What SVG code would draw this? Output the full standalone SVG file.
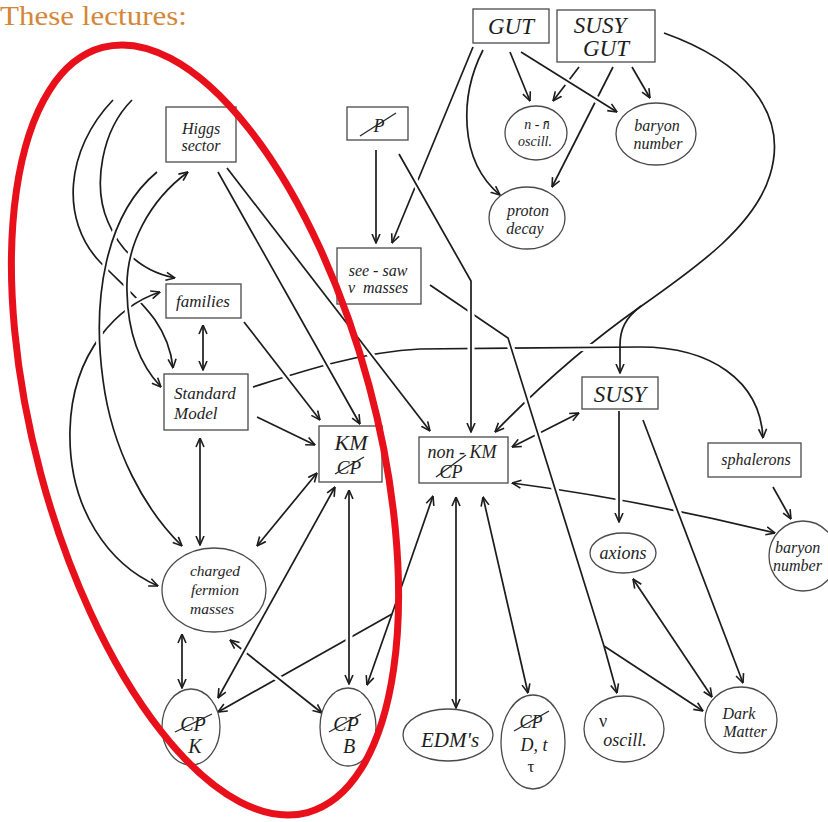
<svg xmlns="http://www.w3.org/2000/svg" width="828" height="822" viewBox="0 0 828 822">
<style>
.c{fill:none;stroke:#1c1c1c;stroke-width:1.7}
.h{fill:none;stroke:#fff;stroke-width:7}
.e{marker-end:url(#a)}
.s{marker-start:url(#a)}
.n{fill:#fff;stroke:#4a4a4a;stroke-width:1.3}
.t{font-family:"Liberation Serif","DejaVu Serif",serif;font-style:italic;fill:#1e1e1e;text-anchor:middle}
.sl{stroke:#262626;stroke-width:1.3}
</style>
<defs>
<marker id="a" viewBox="0 0 10 10" refX="9.5" refY="5" markerWidth="10" markerHeight="10" markerUnits="userSpaceOnUse" orient="auto-start-reverse">
<path d="M0.5,1 L9.5,5 L0.5,9" fill="none" stroke="#1c1c1c" stroke-width="1.6"/>
</marker>
</defs>
<rect width="828" height="822" fill="#fff"/>
<text x="0" y="25" font-family="Liberation Serif,serif" font-size="28" fill="#d4873a" textLength="187" lengthAdjust="spacingAndGlyphs">These lectures:</text>

<g id="connectors">
<path class="c e" d="M640,307 C610,328 560,365 495,432"/>
<path class="h" d="M253,387 C300,372 360,352 420,349 L640,347 C710,347 760,380 763,438"/>
<path class="c e" d="M253,387 C300,372 360,352 420,349 L640,347 C710,347 760,380 763,438"/>
<path class="c" d="M664,33 C740,60 790,110 770,175 C755,225 700,265 640,307"/>
<path class="c e" d="M641,306 C625,318 620,330 620,345 L620,373"/>
<path class="c e" d="M483,50 C460,95 458,160 500,195"/>
<path class="c e" d="M473,47 L392,243"/>
<path class="c e" d="M510,52 L530,101"/>
<path class="c e" d="M579,67 L553,101"/>
<path class="c e" d="M613,67 L552,187"/>
<path class="h" d="M521,54 L612,109"/>
<path class="c e" d="M521,52 L617,112"/>
<path class="c e" d="M632,67 L650,98"/>
<path class="c e" d="M376,150 L376,243"/>
<path class="c s e" d="M512,447 L579,413"/>
<path class="c s e" d="M512,483 Q640,500 775,533"/>
<path class="h" d="M434,288 L508,338 L604,646 L614,683 M604,646 L695,706"/>
<path class="c" d="M430,285 L508,338 L604,646"/>
<path class="c e" d="M604,646 L617,693"/>
<path class="c e" d="M604,646 L703,711"/>
<path class="h" d="M403,160 L471,281 L471,425"/>
<path class="c e" d="M399,154 L471,281 L471,432"/>
<path class="h" d="M619,413 L619,515"/>
<path class="c e" d="M619,411 L619,522"/>
<path class="h" d="M644,423 L740,676"/>
<path class="c e" d="M643,420 L743,683"/>
<path class="c s e" d="M633,579 L712,697"/>
<path class="c e" d="M773,487 L791,519"/>
<path class="h" d="M220,176 L357,418"/>
<path class="c e" d="M218,172 L360,424"/>
<path class="h" d="M229,171 L425,425"/>
<path class="c e" d="M227,168 L430,431"/>
<path class="h" d="M246,325 L316,415"/>
<path class="c e" d="M244,322 L320,420"/>
<path class="c e" d="M257,417 L315,445"/>
<path class="c s e" d="M203,325 L203,370"/>
<path class="c s e" d="M200,438 L200,545"/>
<path class="c s e" d="M317,473 L257,546"/>
<path class="c s" d="M433,496 L392,614"/>
<path class="c e" d="M392,614 L367,685"/>
<path class="c e" d="M392,614 L218,712"/>
<path class="h" d="M236,645 L316,708"/>
<path class="c s e" d="M230,640 L322,713"/>
<path class="h" d="M349,497 L349,677"/>
<path class="c s e" d="M349,490 L349,684"/>
<path class="h" d="M331,494 L222,691"/>
<path class="c s e" d="M335,487 L218,698"/>
<path class="c s e" d="M182,634 L182,688"/>
<path class="c s e" d="M456,497 L456,708"/>
<path class="c s e" d="M483,497 L528,693"/>
<path class="c e" d="M113,100 C65,150 60,220 100,262 C135,298 168,320 173,368"/>
<path class="c e" d="M132,100 C102,130 92,185 108,222 C122,255 145,272 175,278"/>
<path class="h" d="M153,294 C120,305 72,350 70,430 C68,510 110,565 151,583"/>
<path class="c s e" d="M160,292 C120,305 72,350 70,430 C68,510 110,565 158,586"/>
<path class="h" d="M157,172 C105,215 92,300 103,380 C112,450 145,510 176,540"/>
<path class="c e" d="M157,172 C105,215 92,300 103,380 C112,450 145,510 182,546"/>
<path class="h" d="M183,176 C150,200 125,245 127,292 C128,340 143,368 155,381"/>
<path class="c s e" d="M188,172 C150,200 125,245 127,292 C128,340 143,368 161,387"/>
</g>

<g id="higgs"><rect class="n" x="166" y="107" width="70" height="55"/><text class="t" x="201" y="134" font-size="16">Higgs</text><text class="t" x="201" y="151" font-size="16">sector</text></g>
<g id="pslash"><rect class="n" x="347" y="107" width="61" height="33"/><text class="t" x="379" y="132" font-size="18">P</text><line class="sl" x1="360" y1="136" x2="396" y2="113"/></g>
<g id="gut"><rect class="n" x="473" y="9" width="76" height="34"/><text class="t" x="511" y="34" font-size="23">GUT</text></g>
<g id="susygut"><rect class="n" x="557" y="10" width="98" height="52"/><text class="t" x="600" y="33" font-size="23">SUSY</text><text class="t" x="606" y="56" font-size="23">GUT</text></g>
<g id="seesaw"><rect class="n" x="337" y="248" width="84" height="56"/><text class="t" x="378" y="276" font-size="16">see - saw</text><text class="t" x="348" y="293" font-size="16" style="text-anchor:start">ν<tspan x="363">masses</tspan></text></g>
<g id="families"><rect class="n" x="166" y="284" width="75" height="34"/><text class="t" x="203" y="307" font-size="17">families</text></g>
<g id="sm"><rect class="n" x="164" y="374" width="84" height="56"/><text class="t" x="174" y="399" font-size="17" style="text-anchor:start">Standard</text><text class="t" x="174" y="419" font-size="17" style="text-anchor:start">Model</text></g>
<g id="km"><rect class="n" x="319" y="426" width="63" height="56"/><text class="t" x="351" y="450" font-size="22">KM</text><text class="t" x="349" y="474" font-size="19">CP</text><line class="sl" x1="335" y1="474" x2="364" y2="457"/></g>
<g id="nonkm"><rect class="n" x="419" y="437" width="89" height="46"/><text class="t" x="462" y="458" font-size="18">non - KM</text><text class="t" x="451" y="478" font-size="18">CP</text><line class="sl" x1="436" y1="477" x2="466" y2="455"/></g>
<g id="susy"><rect class="n" x="582" y="377" width="76" height="32"/><text class="t" x="620" y="402" font-size="23">SUSY</text></g>
<g id="sphalerons"><rect class="n" x="708" y="443" width="93" height="34"/><text class="t" x="756" y="465" font-size="16">sphalerons</text></g>

<g id="nnosc"><ellipse class="n" cx="536" cy="133" rx="31" ry="27"/><text class="t" x="537" y="129" font-size="14">n - n̄</text><text class="t" x="535" y="146" font-size="14">oscill.</text></g>
<g id="baryon1"><ellipse class="n" cx="656" cy="134" rx="40" ry="31"/><text class="t" x="657" y="131" font-size="16">baryon</text><text class="t" x="658" y="149" font-size="16">number</text></g>
<g id="proton"><ellipse class="n" cx="527" cy="218" rx="38" ry="31"/><text class="t" x="528" y="216" font-size="16">proton</text><text class="t" x="525" y="234" font-size="16">decay</text></g>
<g id="cfm"><ellipse class="n" cx="214" cy="590" rx="52" ry="42"/><text class="t" x="215" y="576" font-size="15.5">charged</text><text class="t" x="215" y="595" font-size="15.5">fermion</text><text class="t" x="212" y="614" font-size="15.5">masses</text></g>
<g id="cpk"><ellipse class="n" cx="191" cy="727" rx="29" ry="38"/><text class="t" x="193" y="731" font-size="20">CP</text><line class="sl" x1="175" y1="732" x2="212" y2="714"/><text class="t" x="195" y="753" font-size="20">K</text></g>
<g id="cpb"><ellipse class="n" cx="348" cy="727" rx="28" ry="39"/><text class="t" x="346" y="731" font-size="20">CP</text><line class="sl" x1="329" y1="732" x2="361" y2="714"/><text class="t" x="349" y="753" font-size="20">B</text></g>
<g id="axions"><ellipse class="n" cx="623" cy="553" rx="33" ry="20"/><text class="t" x="623" y="559" font-size="18">axions</text></g>
<g id="baryon2"><ellipse class="n" cx="803" cy="556" rx="34" ry="35"/><text class="t" x="775" y="553" font-size="16" style="text-anchor:start">baryon</text><text class="t" x="773" y="571" font-size="16" style="text-anchor:start">number</text></g>
<g id="edm"><ellipse class="n" cx="448" cy="735" rx="45" ry="26"/><text class="t" x="450" y="747" font-size="21">EDM's</text></g>
<g id="cpd"><ellipse class="n" cx="533" cy="742" rx="32" ry="47"/><text class="t" x="531" y="728" font-size="18">CP</text><line class="sl" x1="514" y1="731" x2="549" y2="711"/><text class="t" x="534" y="751" font-size="18">D, t</text><text class="t" x="531" y="772" font-size="17" style="font-style:normal">τ</text></g>
<g id="nuosc"><ellipse class="n" cx="624" cy="729" rx="40" ry="33"/><text class="t" x="603" y="727" font-size="18" style="font-style:normal">ν</text><text class="t" x="625" y="746" font-size="18">oscill.</text></g>
<g id="dm"><ellipse class="n" cx="741" cy="720" rx="36" ry="33"/><text class="t" x="739" y="719" font-size="16">Dark</text><text class="t" x="745" y="737" font-size="16">Matter</text></g>

<ellipse cx="205" cy="430" rx="170" ry="396" transform="rotate(-15 205 430)" fill="none" stroke="#e8101a" stroke-width="7"/>
</svg>
